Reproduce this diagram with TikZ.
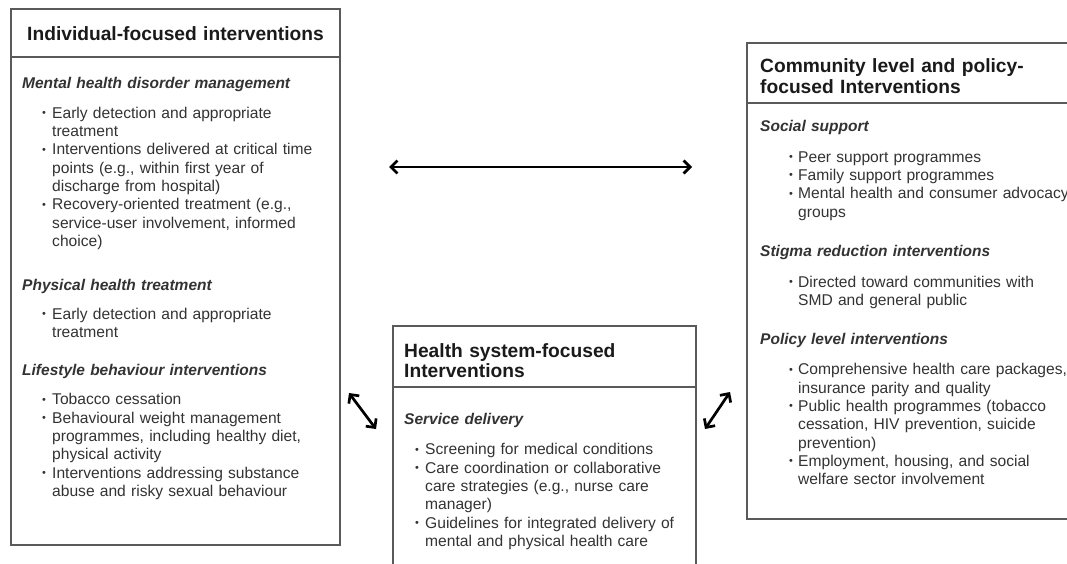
\documentclass[tikz,border=0pt]{standalone}
\usepackage{fontspec}
\setmainfont{Liberation Sans}
\usetikzlibrary{arrows.meta}
\definecolor{txt}{HTML}{333333}
\definecolor{ttl}{HTML}{1A1A1A}
\definecolor{frame}{HTML}{5A5A5A}
\newlength\bo
\newlength\bt
\newcommand\sbul{\raisebox{0.2ex}{\scalebox{0.7}{\textbullet}}}
\newcommand\bi[1]{\hspace*{\bo}\makebox[\bt][l]{\sbul}#1}
\newcommand\ci[1]{\hspace*{\dimexpr\bo+\bt\relax}#1}
\newcommand\hd[1]{{\fontsize{15.5}{18.3}\selectfont\textbf{\textit{#1}}}}
\begin{document}
\begin{tikzpicture}[x=1pt,y=-1pt,
  box/.style={draw=frame,line width=1.2pt},
  ttlnode/.style={anchor=base west,inner sep=0pt,text width=320pt,align=left,text=ttl,
    font=\bfseries\fontsize{19.2}{21}\selectfont},
  sec/.style={anchor=base west,inner sep=0pt,text width=320pt,align=left,text=txt,
    font=\fontsize{15.6}{18.3}\selectfont},
  lsec/.style={sec,execute at begin node={\setlength\bo{20pt}\setlength\bt{10pt}}},
  rsec/.style={sec,execute at begin node={\setlength\bo{29pt}\setlength\bt{9pt}}},
  msec/.style={sec,execute at begin node={\setlength\bo{11pt}\setlength\bt{10pt}}},
  link/.style={line width=2.7pt,black,
    {Straight Barb[length=6.5pt,width=13pt,line width=2.7pt]}-{Straight Barb[length=6.5pt,width=13pt,line width=2.7pt]}}
]
\useasboundingbox (0,0) rectangle (1067,563);
\clip (0,0) rectangle (1067,563);
\fill[white] (0,0) rectangle (1067,563);

% Left box
\draw[box] (11,9) rectangle (340,545);
\draw[box] (11,57) -- (340,57);
\node[ttlnode] (lt) at (27,40) {Individual-focused interventions};
\node[lsec] (l1) at (22,88.5) {\hd{Mental health disorder management}\\[11.5pt]
\bi{Early detection and appropriate}\\
\ci{treatment}\\
\bi{Interventions delivered at critical time}\\
\ci{points (e.g., within first year of}\\
\ci{discharge from hospital)}\\
\bi{Recovery-oriented treatment (e.g.,}\\
\ci{service-user involvement, informed}\\
\ci{choice)}};
\node[lsec] (l2) at (22,290) {\hd{Physical health treatment}\\[11pt]
\bi{Early detection and appropriate}\\
\ci{treatment}};
\node[lsec] (l3) at (22,375) {\hd{Lifestyle behaviour interventions}\\[11.5pt]
\bi{Tobacco cessation}\\
\bi{Behavioural weight management}\\
\ci{programmes, including healthy diet,}\\
\ci{physical activity}\\
\bi{Interventions addressing substance}\\
\ci{abuse and risky sexual behaviour}};

% Middle box
\draw[box] (393,326) rectangle (696,575);
\draw[box] (393,387) -- (696,387);
\node[ttlnode,font=\bfseries\fontsize{19.2}{20.5}\selectfont] (mt) at (404,357) {Health system-focused\\Interventions};
\node[msec] (m1) at (404,424.5) {\hd{Service delivery}\\[12pt]
\bi{Screening for medical conditions}\\
\bi{Care coordination or collaborative}\\
\ci{care strategies (e.g., nurse care}\\
\ci{manager)}\\
\bi{Guidelines for integrated delivery of}\\
\ci{mental and physical health care}};

% Right box
\draw[box] (747,43) rectangle (1080,519);
\draw[box] (747,103) -- (1080,103);
\node[ttlnode] (rt) at (760,72) {Community level and policy-\\focused Interventions};
\node[rsec] (r1) at (760,131.5) {\hd{Social support}\\[12.5pt]
\bi{Peer support programmes}\\
\bi{Family support programmes}\\
\bi{Mental health and consumer advocacy}\\
\ci{groups}};
\node[rsec] (r2) at (760,256.5) {\hd{Stigma reduction interventions}\\[12.5pt]
\bi{Directed toward communities with}\\
\ci{SMD and general public}};
\node[rsec] (r3) at (760,344.5) {\hd{Policy level interventions}\\[12pt]
\bi{Comprehensive health care packages,}\\
\ci{insurance parity and quality}\\
\bi{Public health programmes (tobacco}\\
\ci{cessation, HIV prevention, suicide}\\
\ci{prevention)}\\
\bi{Employment, housing, and social}\\
\ci{welfare sector involvement}};

% Arrows
\coordinate (ha) at (389,167);
\coordinate (hb) at (692,167);
\coordinate (la) at (349,393);
\coordinate (lb) at (376,429);
\coordinate (ra) at (730,392);
\coordinate (rb) at (705,429);
\draw[link] (ha) -- (hb);
\draw[link] (la) -- (lb);
\draw[link] (ra) -- (rb);
\end{tikzpicture}
\end{document}
